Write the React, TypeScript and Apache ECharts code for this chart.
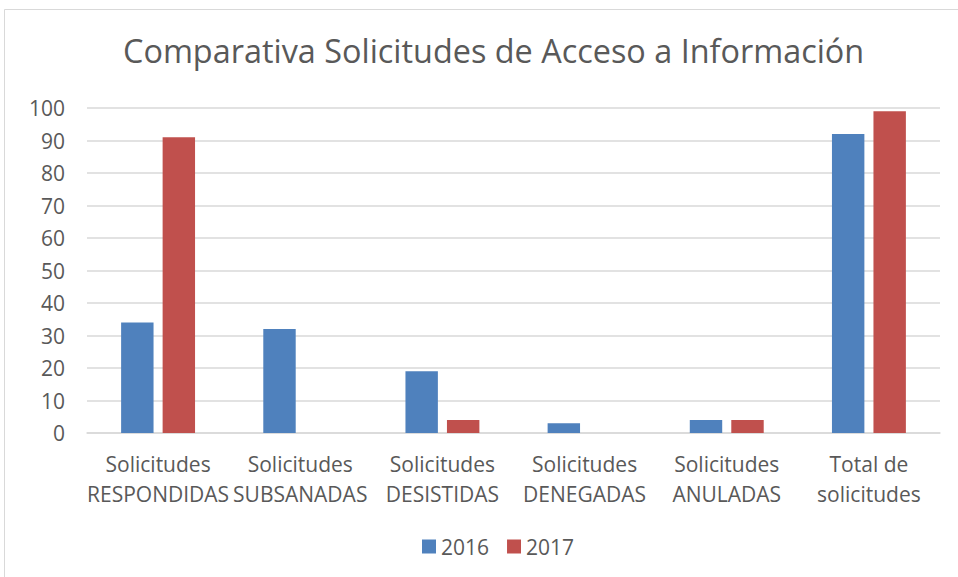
import React, { useEffect, useRef } from "react";
import * as echarts from "echarts";

const categories = [
  "Solicitudes\nRESPONDIDAS",
  "Solicitudes\nSUBSANADAS",
  "Solicitudes\nDESISTIDAS",
  "Solicitudes\nDENEGADAS",
  "Solicitudes\nANULADAS",
  "Total de\nsolicitudes",
];
const values2016 = [34, 32, 19, 3, 4, 92];
const values2017 = [91, 0, 4, 0, 4, 99];
const seriesNames = ["2016", "2017"];
const colors = ["#4F81BD", "#C0504D"];

const FONT = "'Open Sans', 'Liberation Sans', sans-serif";

export default function App() {
  const ref = useRef<HTMLDivElement>(null);
  useEffect(() => {
    if (!ref.current) return;
    const chart = echarts.init(ref.current, undefined, { renderer: "svg" });
    chart.setOption({
      animation: false,
      backgroundColor: "#ffffff",
      title: {
        text: "Comparativa Solicitudes de Acceso a Información",
        left: 118,
        top: 29,
        textStyle: { fontFamily: FONT, fontSize: 32.4, fontWeight: "normal", color: "#595959" },
      },
      graphic: [
        {
          type: "rect",
          shape: { x: 4.5, y: 9.5, width: 960, height: 580 },
          style: { fill: "none", stroke: "#d9d9d9", lineWidth: 1 },
          silent: true,
        },
      ],
      legend: {
        bottom: 15,
        left: 417,
        itemWidth: 14,
        itemHeight: 14,
        itemGap: 18,
        icon: "rect",
        textStyle: { fontFamily: FONT, fontSize: 21, color: "#595959" },
        data: seriesNames,
      },
      grid: { left: 87, right: 18, top: 108, bottom: 144, containLabel: false },
      xAxis: {
        type: "category",
        data: categories,
        axisLine: { lineStyle: { color: "#d9d9d9", width: 1.5 } },
        axisTick: { show: false },
        axisLabel: {
          fontFamily: FONT,
          fontSize: 21,
          color: "#595959",
          lineHeight: 30,
          margin: 16,
          interval: 0,
        },
      },
      yAxis: {
        type: "value",
        min: 0,
        max: 100,
        interval: 10,
        axisLine: { show: false },
        axisTick: { show: false },
        splitLine: { lineStyle: { color: "#d9d9d9", width: 1.5 } },
        axisLabel: { fontFamily: FONT, fontSize: 21, color: "#595959", margin: 22 },
      },
      series: [
        {
          name: seriesNames[0],
          type: "bar",
          data: values2016,
          itemStyle: { color: colors[0] },
          barGap: "28%",
          barCategoryGap: "48%",
        },
        {
          name: seriesNames[1],
          type: "bar",
          data: values2017,
          itemStyle: { color: colors[1] },
          barGap: "28%",
          barCategoryGap: "48%",
        },
      ],
    });
    return () => chart.dispose();
  }, []);
  return (
    <div
      ref={ref}
      style={{ position: "fixed", left: 0, top: 0, width: 958, height: 577 }}
    />
  );
}
